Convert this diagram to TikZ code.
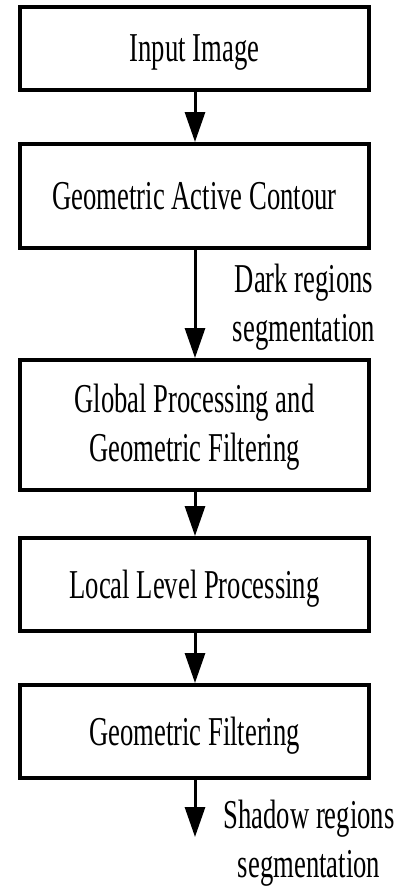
\documentclass[tikz,border=0pt]{standalone}
\usepackage{fontspec}
\setmainfont{Liberation Serif}[FakeStretch=0.65]
\usetikzlibrary{arrows.meta}
\begin{document}
\begin{tikzpicture}[x=1pt,y=-1pt,
  font=\fontsize{41}{49}\selectfont,
  box/.style={draw,line width=4pt,minimum width=349pt,inner sep=0pt,align=center},
  one/.style={text height=27pt,text depth=0pt},
  flow/.style={line width=3pt,-{Triangle[width=20pt,length=30pt]}},
  lab/.style={align=center,inner sep=0pt}]
\useasboundingbox (0,0) rectangle (397,887);
\node[box,one,minimum height=82.5pt] (b1) at (194.5,48.25) {Input Image};
\node[box,one,minimum height=104pt] (b2) at (194.5,196) {Geometric Active Contour};
\node[box,minimum height=130pt] (b3) at (194.5,425) {};
\node[lab] (t3) at (194.5,427.5) {Global Processing and\\Geometric Filtering};
\node[box,one,minimum height=93pt] (b4) at (194.5,584.5) {Local Level Processing};
\node[box,one,minimum height=93pt] (b5) at (194.5,731.5) {Geometric Filtering};
\coordinate (end) at (195,837);
\draw[flow] (b1.south -| 195,0) -- (b2.north -| 195,0);
\draw[flow] (b2.south -| 195,0) -- (b3.north -| 195,0);
\draw[flow] (b3.south -| 195,0) -- (b4.north -| 195,0);
\draw[flow] (b4.south -| 195,0) -- (b5.north -| 195,0);
\draw[flow] (b5.south -| 195,0) -- (end);
\node[lab] (l1) at (304,307.5) {Dark regions\\segmentation};
\node[lab] (l2) at (309,843) {Shadow regions\\segmentation};
\end{tikzpicture}
\end{document}
